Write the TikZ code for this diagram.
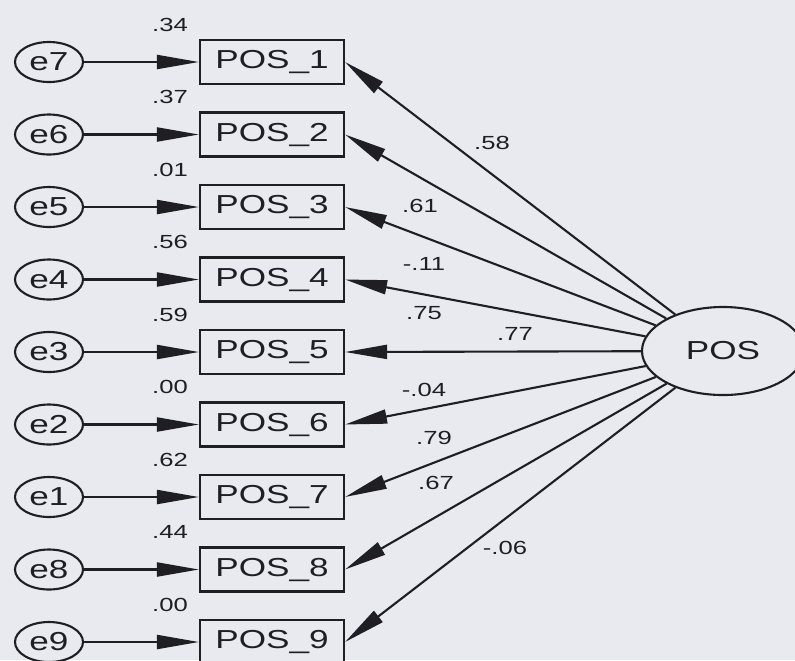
\documentclass[tikz,border=0pt]{standalone}
\usepackage{fontspec}
\setmainfont{Liberation Sans}
\usepackage{graphicx}
\usetikzlibrary{arrows.meta, shapes.geometric}

\definecolor{paper}{RGB}{233,234,240}
\definecolor{ink}{RGB}{30,30,35}
\newcommand{\wide}[1]{\scalebox{1.35}[1]{#1}}

\begin{document}
\begin{tikzpicture}[x=0.025cm, y=-0.025cm,
  err/.style={draw=ink, fill=paper, line width=1.5pt, ellipse, inner sep=0pt,
    minimum width=1.7cm, minimum height=1cm, text=ink, font=\fontsize{18.5}{20}\selectfont},
  item/.style={draw=ink, fill=paper, line width=1.5pt, rectangle, inner sep=0pt,
    minimum width=3.6cm, minimum height=1.1cm, text=ink, font=\fontsize{18.5}{20}\selectfont},
  latent/.style={draw=ink, fill=paper, line width=1.5pt, ellipse, inner sep=0pt,
    minimum width=4.05cm, minimum height=2.2cm, text=ink, font=\fontsize{18.5}{20}\selectfont},
  coef/.style={inner sep=0pt, text=ink, font=\fontsize{13.5}{15}\selectfont},
  arr/.style={draw=ink, line width=1.5pt, -{Triangle[length=10.5mm, width=3.5mm]}}
]
\fill[paper] (0,0) rectangle (795,660);
\clip (0,0) rectangle (795,660);

% error terms
\node[err] (e7) at (49,62)    {\wide{e7}};
\node[err] (e6) at (49,134.5) {\wide{e6}};
\node[err] (e5) at (49,207)   {\wide{e5}};
\node[err] (e4) at (49,279.5) {\wide{e4}};
\node[err] (e3) at (49,352)   {\wide{e3}};
\node[err] (e2) at (49,424.5) {\wide{e2}};
\node[err] (e1) at (49,497)   {\wide{e1}};
\node[err] (e8) at (49,569.5) {\wide{e8}};
\node[err] (e9) at (49,642)   {\wide{e9}};

% observed items
\node[item] (p1) at (272,62)    {\wide{POS\_1}};
\node[item] (p2) at (272,134.5) {\wide{POS\_2}};
\node[item] (p3) at (272,207)   {\wide{POS\_3}};
\node[item] (p4) at (272,279.5) {\wide{POS\_4}};
\node[item] (p5) at (272,352)   {\wide{POS\_5}};
\node[item] (p6) at (272,424.5) {\wide{POS\_6}};
\node[item] (p7) at (272,497)   {\wide{POS\_7}};
\node[item] (p8) at (272,569.5) {\wide{POS\_8}};
\node[item] (p9) at (272,642)   {\wide{POS\_9}};

% latent factor
\node[latent] (pos) at (723,351) {\wide{POS}};

\draw[arr] (e7) -- (p1);
\draw[arr] (e6) -- (p2);
\draw[arr] (e5) -- (p3);
\draw[arr] (e4) -- (p4);
\draw[arr] (e3) -- (p5);
\draw[arr] (e2) -- (p6);
\draw[arr] (e1) -- (p7);
\draw[arr] (e8) -- (p8);
\draw[arr] (e9) -- (p9);

\draw[arr] (pos) -- (p1.east);
\draw[arr] (pos) -- (p2.east);
\draw[arr] (pos) -- (p3.east);
\draw[arr] (pos) -- (p4.east);
\draw[arr] (pos) -- (p5.east);
\draw[arr] (pos) -- (p6.east);
\draw[arr] (pos) -- (p7.east);
\draw[arr] (pos) -- (p8.east);
\draw[arr] (pos) -- (p9.east);

% squared multiple correlations
\node[coef] (r1) at (170,25)    {\wide{.34}};
\node[coef] (r2) at (170,97)    {\wide{.37}};
\node[coef] (r3) at (170,170)   {\wide{.01}};
\node[coef] (r4) at (170,242)   {\wide{.56}};
\node[coef] (r5) at (170,315)   {\wide{.59}};
\node[coef] (r6) at (170,387)   {\wide{.00}};
\node[coef] (r7) at (170,460)   {\wide{.62}};
\node[coef] (r8) at (170,532)   {\wide{.44}};
\node[coef] (r9) at (170,605)   {\wide{.00}};

% loadings
\node[coef] (l1) at (492,143) {\wide{.58}};
\node[coef] (l2) at (420,206) {\wide{.61}};
\node[coef] (l3) at (424,264) {\wide{-.11}};
\node[coef] (l4) at (424,313) {\wide{.75}};
\node[coef] (l5) at (515,334) {\wide{.77}};
\node[coef] (l6) at (424,390) {\wide{-.04}};
\node[coef] (l7) at (434,438) {\wide{.79}};
\node[coef] (l8) at (436,483) {\wide{.67}};
\node[coef] (l9) at (505,548) {\wide{-.06}};
\end{tikzpicture}
\end{document}
